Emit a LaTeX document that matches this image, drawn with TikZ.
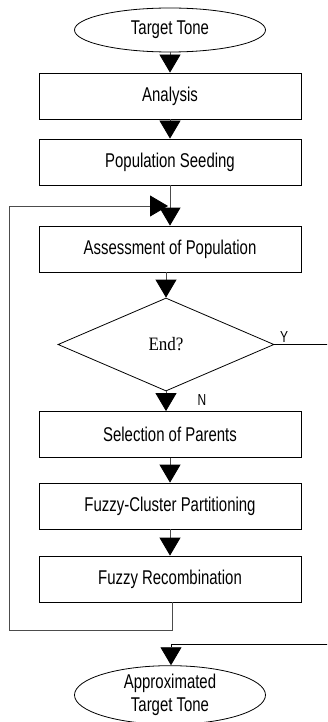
\documentclass[tikz,border=0pt]{standalone}
\usepackage{fontspec}
\setmainfont{Liberation Sans}[FakeStretch=0.75]
\newfontfamily\serifrm{Liberation Serif}[FakeStretch=0.9]
\usetikzlibrary{shapes.geometric,arrows.meta}
\tikzset{
  stepbox/.style={draw,line width=.8bp,minimum width=262bp,minimum height=46bp,inner sep=0pt,font=\fontsize{20}{23}\selectfont},
  oval/.style={draw,ellipse,line width=.8bp,minimum width=191bp,inner sep=0pt,align=center,font=\fontsize{20}{23}\selectfont},
  flow/.style={line width=.8bp,draw=black!70,-{Triangle[width=21bp,length=18bp,color=black]}},
  lab/.style={font=\fontsize{16}{18}\selectfont,inner sep=0pt}
}
\begin{document}
\begin{tikzpicture}[x=1bp,y=-1bp]
    \useasboundingbox (0,0) rectangle (327,722);
    \clip (0,0) rectangle (327,722);
    % steps
    \node[oval,minimum height=44bp] (ttone) at (170,30) {Target Tone};
    \node[stepbox] (analysis) at (170,96) {Analysis};
    \node[stepbox] (seed) at (170,162) {Population Seeding};
    \node[stepbox] (assess) at (170,249) {Assessment of Population};
    \node[draw,diamond,line width=.8bp,minimum width=216bp,minimum height=93bp,inner sep=0pt,font=\serifrm\fontsize{19}{21}\selectfont] (endq) at (166,344.5) {End?};
    \node[stepbox] (select) at (170,434.5) {Selection of Parents};
    \node[stepbox] (cluster) at (170,506) {Fuzzy-Cluster Partitioning};
    \node[stepbox] (recomb) at (170,579) {Fuzzy Recombination};
    \node[oval,minimum height=55bp] (atone) at (170,695) {Approximated\\Target Tone};
    \node[lab] (ylab) at (284,337) {Y};
    \node[lab] (nlab) at (202,400) {N};
    % connectors
    \coordinate (loopl) at (9,630);
    \coordinate (loopin) at (168,206);
    \coordinate (yturn) at (340,644);
    \draw[flow] (ttone) -- (analysis);
    \draw[flow] (analysis) -- (seed);
    \draw[flow] (seed) -- (assess);
    \draw[flow] (assess.south -| endq) -- (endq.north);
    \draw[flow] (endq.south) -- (select.north -| endq);
    \draw[flow] (select) -- (cluster);
    \draw[flow] (cluster) -- (recomb);
    \draw[flow] ([xshift=2bp]recomb.south) |- (loopl) |- (loopin);
    \draw[flow,draw=black] (endq.east) -| (yturn) -| ([xshift=1bp]atone.north);
\end{tikzpicture}
\end{document}
